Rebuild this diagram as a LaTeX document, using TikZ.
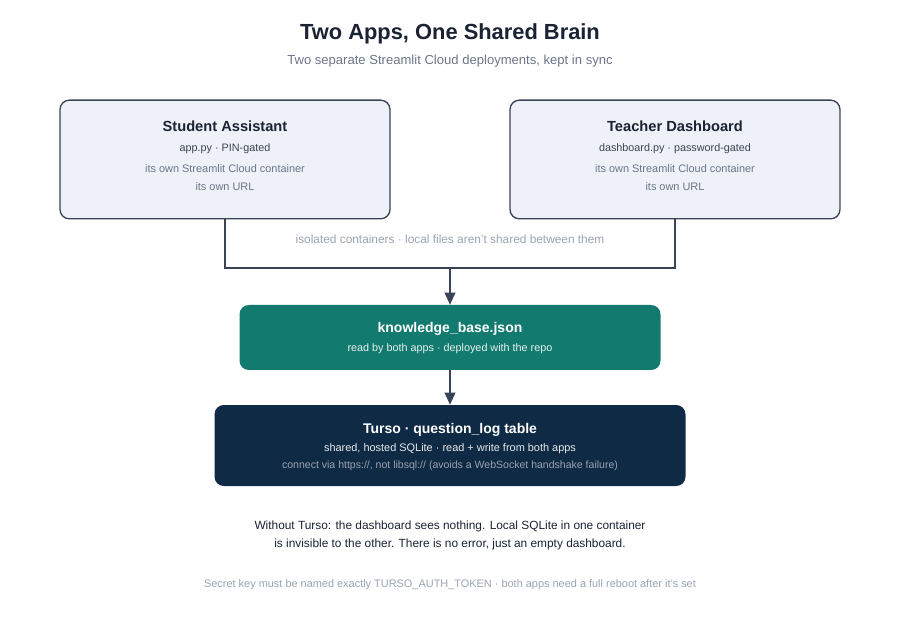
\documentclass[tikz,border=0pt]{standalone}
\usepackage{fontspec}
\setmainfont{Liberation Sans}
\usetikzlibrary{arrows.meta,positioning,calc}
\definecolor{boxfill}{HTML}{EEF2F8}
\definecolor{boxline}{HTML}{3A4457}
\definecolor{ink}{HTML}{1A2233}
\definecolor{muted}{HTML}{6B7588}
\definecolor{faint}{HTML}{9AA3B2}
\definecolor{teal}{HTML}{127A6E}
\definecolor{navy}{HTML}{0F2A44}
\tikzset{
  app/.style={draw=boxline,line width=1pt,fill=boxfill,rounded corners=7pt,minimum width=247.5pt,minimum height=89pt},
  store/.style={rounded corners=7pt,minimum height=48.75pt},
  link/.style={draw=boxline,line width=1.2pt},
  arr/.style={link,-{Triangle[length=9pt,width=8pt]}}
}
\begin{document}
\begin{tikzpicture}[x=0.75pt,y=-0.75pt]
      \useasboundingbox (0,0) rectangle (900,620);
      \node[font=\bfseries\fontsize{16.4}{19}\selectfont,text=ink] (title) at (450,34) {Two Apps, One Shared Brain};
      \node[font=\fontsize{9.8}{12}\selectfont,text=muted] (sub) at (450,61) {Two separate Streamlit Cloud deployments, kept in sync};
      % apps
      \node[app] (student) at (225,159.5) {};
      \node[app] (teacher) at (675,159.5) {};
      \foreach \n/\t/\a in {student/Student Assistant/app.py · PIN-gated,teacher/Teacher Dashboard/dashboard.py · password-gated}{
        \node[font=\bfseries\fontsize{11}{13}\selectfont,text=ink] at ($(\n.north)+(0,27)$) {\t};
        \node[font=\fontsize{8.1}{10}\selectfont,text=ink!85] at ($(\n.north)+(0,49)$) {\a};
        \node[font=\fontsize{8.2}{10}\selectfont,text=muted] at ($(\n.north)+(0,69)$) {its own Streamlit Cloud container};
        \node[font=\fontsize{8.2}{10}\selectfont,text=muted] at ($(\n.north)+(0,87)$) {its own URL};
      }
      \node[font=\fontsize{8.9}{11}\selectfont,text=faint] (iso) at (450,239) {isolated containers · local files aren't shared between them};
      % shared stores
      \node[store,fill=teal,minimum width=315.75pt] (kb) at (450,337.5) {};
      \node[font=\bfseries\fontsize{10.5}{12}\selectfont,text=white] at ($(kb.center)+(0,-9)$) {knowledge\_base.json};
      \node[font=\fontsize{8.1}{10}\selectfont,text=white!90!teal] at ($(kb.center)+(0,11)$) {read by both apps · deployed with the repo};
      \node[store,fill=navy,minimum width=353.25pt,minimum height=60.75pt] (turso) at (450,445.5) {};
      \node[font=\bfseries\fontsize{10.5}{12}\selectfont,text=white] at ($(turso.center)+(0,-16)$) {Turso · question\_log table};
      \node[font=\fontsize{8.2}{10}\selectfont,text=white!90!navy] at ($(turso.center)+(0,3)$) {shared, hosted SQLite · read + write from both apps};
      \node[font=\fontsize{7.9}{10}\selectfont,text=faint] at ($(turso.center)+(0,20)$) {connect via https://, not libsql:// (avoids a WebSocket handshake failure)};
      % connectors
      \coordinate (join) at (450,268);
      \draw[link] (student.south) |- (join) -| (teacher.south);
      \draw[arr] (join) -- (kb.north);
      \draw[arr] (kb.south) -- (turso.north);
      % notes
      \node[font=\fontsize{8.9}{13.5}\selectfont,text=ink,align=center] (note) at (450,535) {Without Turso: the dashboard sees nothing. Local SQLite in one container\\is invisible to the other. There is no error, just an empty dashboard.};
      \node[font=\fontsize{8.2}{10}\selectfont,text=faint] (foot) at (450,585) {Secret key must be named exactly TURSO\_AUTH\_TOKEN · both apps need a full reboot after it's set};
\end{tikzpicture}
\end{document}
